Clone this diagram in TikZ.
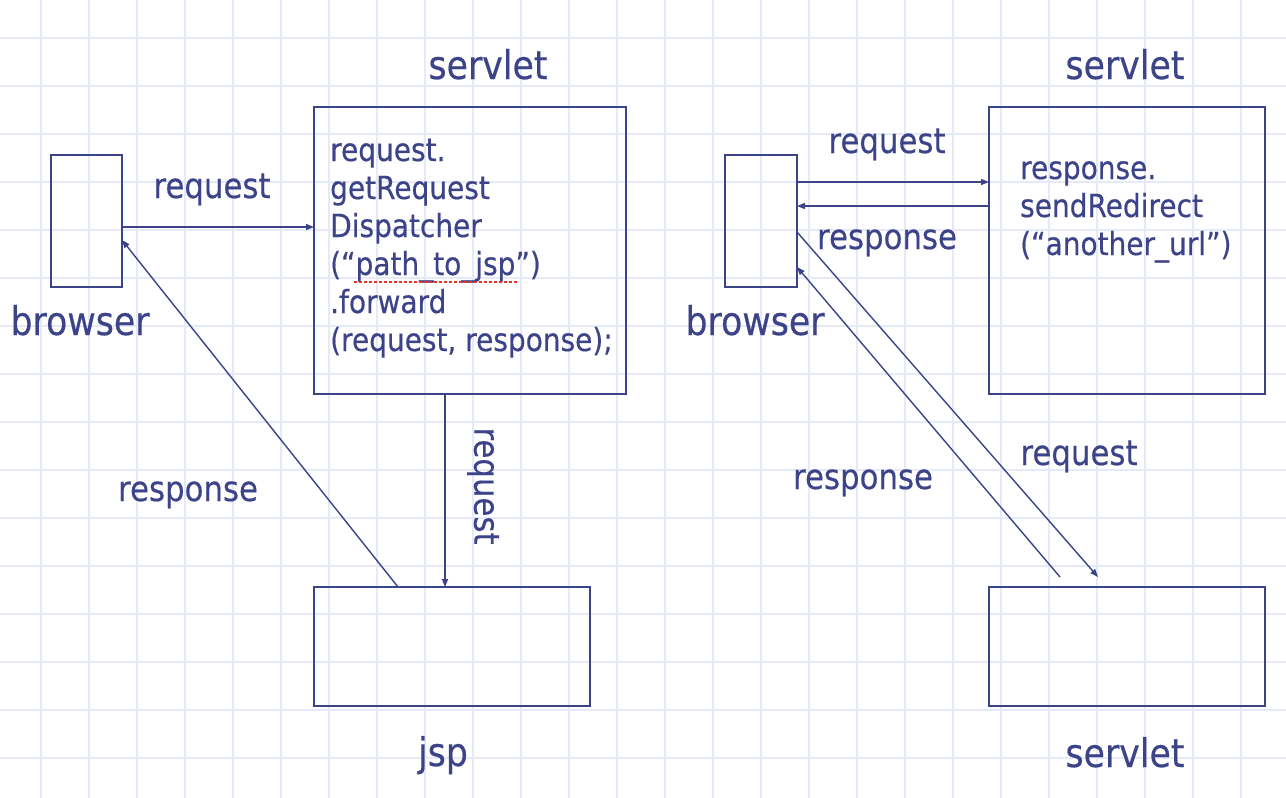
\documentclass[tikz,border=0pt]{standalone}
\usepackage{fontspec}
\setmainfont{DejaVu Sans}[FakeStretch=0.88, FakeBold=0.4]
\usetikzlibrary{arrows.meta}
\definecolor{navy}{HTML}{3C4388}
\definecolor{gridc}{HTML}{E5E9F8}
\definecolor{spell}{HTML}{E5342A}
\tikzset{
  box/.style={draw=navy, line width=2.7pt, inner sep=0pt, outer sep=0pt, anchor=north west},
  conn/.style={draw=navy, line width=1.4pt, -{Triangle[length=8pt,width=6pt]}},
  biglabel/.style={text=navy, font=\fontsize{39.5}{46}\selectfont, anchor=base, inner sep=0pt},
  arrlabel/.style={text=navy, font=\fontsize{35}{42}\selectfont, anchor=base, inner sep=0pt},
  code/.style={text=navy, font=\fontsize{31.8}{38}\selectfont, anchor=base west, inner sep=0pt},
  gridline/.style={draw=gridc, line width=1.6pt}
}
\begin{document}
\begin{tikzpicture}[x=1pt,y=-1pt]
\useasboundingbox (0,0) rectangle (1286,798);
\fill[white] (0,0) rectangle (1286,798);
\foreach \k in {0,...,25} { \draw[gridline] ({41+48*\k},0) -- ({41+48*\k},798); }
\foreach \k in {0,...,15} { \draw[gridline] (0,{38+48*\k}) -- (1286,{38+48*\k}); }

% left part
\node[box, minimum width=71pt, minimum height=132pt] (b1) at (51,155) {};
\node[box, minimum width=312pt, minimum height=287pt] (s1) at (314,107) {};
\node[box, minimum width=276pt, minimum height=119pt] (j1) at (314,587) {};

\node[biglabel] (ls1) at (488,79) {servlet};
\node[biglabel] (lb1) at (80,335) {browser};
\node[biglabel] (lj1) at (443,766) {jsp};

\node[code] (c1) at (330,161) {request.};
\node[code] (c2) at (330,199) {getRequest};
\node[code] (c3) at (330,237) {Dispatcher};
\node[code] (c4) at (330,275) {(“path\_to\_jsp”)};
\node[code] (c5) at (330,313) {.forward};
\node[code] (c6) at (330,351) {(request, response);};
\draw[spell, line width=2.6pt, dash pattern=on 2.6pt off 2.4pt] (354,282) -- (519,282);

\coordinate (a1) at ([yshift=-6pt]b1.east);
\draw[conn] (a1) -- (a1 -| s1.west);
\node[arrlabel] (lr1) at (212,198) {request};

\coordinate (d1) at ([xshift=-25pt]s1.south);
\draw[conn] (d1) -- (d1 |- j1.north);
\node[arrlabel, rotate=-90, anchor=center] (lr2) at (483,486) {request};

\coordinate (r1s) at ([xshift=-54pt]j1.north);
\coordinate (r1e) at ([yshift=-19pt]b1.east);
\draw[conn] (r1s) -- (r1e);
\node[arrlabel] (lp1) at (188,501) {response};

% right part
\node[box, minimum width=72pt, minimum height=132pt] (b2) at (725,155) {};
\node[box, minimum width=276pt, minimum height=287pt] (s2) at (989,107) {};
\node[box, minimum width=276pt, minimum height=119pt] (s3) at (989,587) {};

\node[biglabel] (ls2) at (1125,79) {servlet};
\node[biglabel] (lb2) at (755,335) {browser};
\node[biglabel] (ls3) at (1125,767) {servlet};

\node[code] (e1) at (1020,179) {response.};
\node[code] (e2) at (1020,217) {sendRedirect};
\node[code] (e3) at (1020,255) {(“another\_url”)};

\coordinate (q1) at ([yshift=39pt]b2.east);
\draw[conn] (q1) -- (q1 -| s2.west);
\node[arrlabel] (lr3) at (887,153) {request};

\coordinate (p1) at ([yshift=44.5pt]s2.west);
\draw[conn] (p1) -- (p1 -| b2.east);
\node[arrlabel] (lp3) at (887,249) {response};

\coordinate (q2s) at ([yshift=-11pt]b2.east);
\coordinate (q2e) at ([shift={(-29pt,10pt)}]s3.north);
\draw[conn] (q2s) -- (q2e);
\node[arrlabel] (lr4) at (1079,465) {request};

\coordinate (p2s) at ([shift={(-67pt,10pt)}]s3.north);
\coordinate (p2e) at ([yshift=-46pt]b2.east);
\draw[conn] (p2s) -- (p2e);
\node[arrlabel] (lp4) at (863,489) {response};
\end{tikzpicture}
\end{document}
